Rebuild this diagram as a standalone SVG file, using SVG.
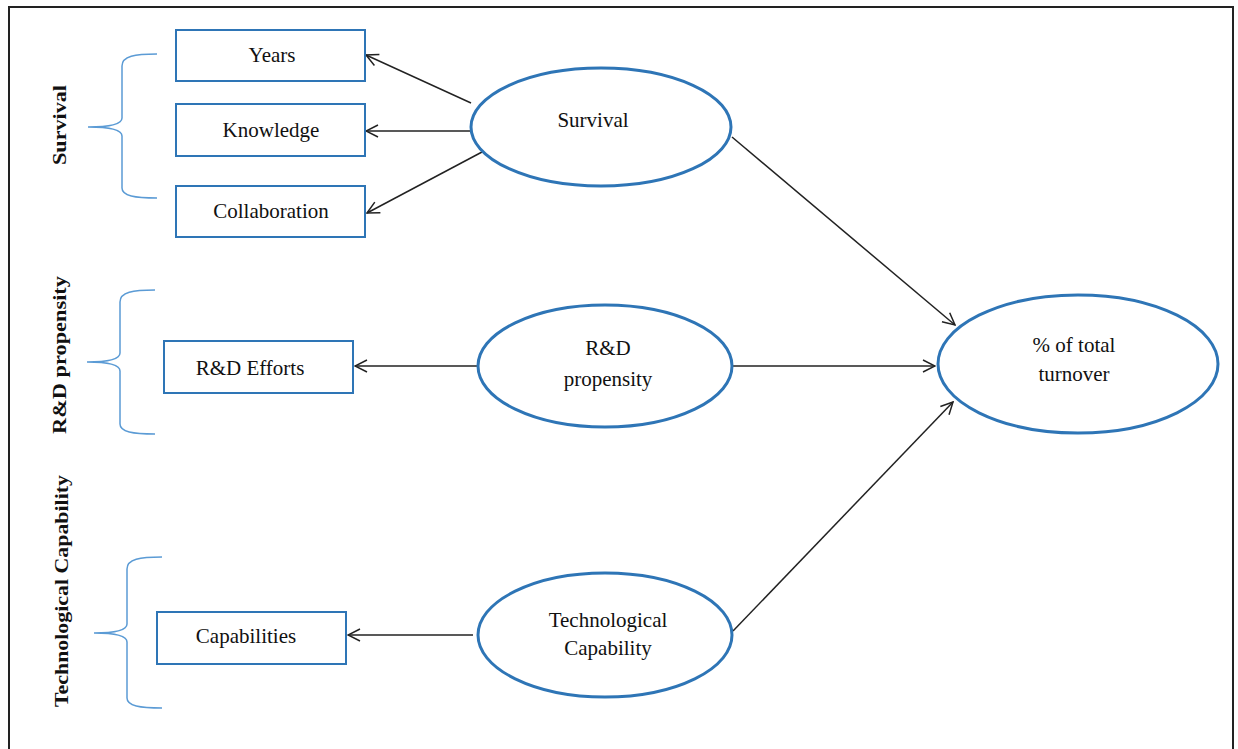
<svg xmlns="http://www.w3.org/2000/svg" width="1238" height="749" viewBox="0 0 1238 749">
<defs>
<style>
.frame{fill:none;stroke:#222;stroke-width:2}
.box{fill:#fff;stroke:#2e75b6;stroke-width:2}
.ell{fill:#fff;stroke:#2e75b6;stroke-width:3}
.brace{fill:none;stroke:#5b9bd5;stroke-width:1.5}
.conn{stroke:#222;stroke-width:1.5;fill:none;marker-end:url(#arr)}
.t{font-family:"Liberation Serif","Times New Roman",serif;font-size:21px;fill:#111;text-anchor:middle}
.v{font-family:"Liberation Serif","Times New Roman",serif;font-size:19px;font-weight:bold;fill:#111;text-anchor:middle}
</style>
<marker id="arr" viewBox="0 0 14 14" refX="13" refY="7" markerWidth="14" markerHeight="14" markerUnits="userSpaceOnUse" orient="auto">
<path d="M1,1 L13,7 L1,13" fill="none" stroke="#222" stroke-width="1.5"/>
</marker>
</defs>
<rect x="0" y="0" width="1238" height="749" fill="#fff"/>
<path class="frame" d="M9,760 L9,7 L1233,7 L1233,760"/>

<g id="connectors">
<line class="conn" x1="471" y1="103" x2="366" y2="55"/>
<line class="conn" x1="470" y1="131" x2="366" y2="131"/>
<line class="conn" x1="482" y1="152" x2="367" y2="213"/>
<line class="conn" x1="732" y1="137" x2="955" y2="325"/>
<line class="conn" x1="732" y1="366" x2="935" y2="366"/>
<line class="conn" x1="479" y1="366" x2="355" y2="366"/>
<line class="conn" x1="473" y1="635" x2="348" y2="635"/>
<line class="conn" x1="733" y1="631" x2="953" y2="402"/>
</g>

<g id="brace-survival">
<path class="brace" d="M157,54 C135,54 122,56 122,66 L122,118 C122,124 112,127 88,127 C112,127 122,130 122,136 L122,188 C122,196 135,198 157,198"/>
<text class="v" transform="translate(66,125) rotate(-90)" textLength="80" lengthAdjust="spacingAndGlyphs">Survival</text>
</g>
<g id="brace-rd">
<path class="brace" d="M155,290 C133,290 120,292 120,302 L120,353 C120,359 110,362 87,362 C110,362 120,365 120,371 L120,424 C120,432 133,434 155,434"/>
<text class="v" transform="translate(66,355) rotate(-90)" textLength="158" lengthAdjust="spacingAndGlyphs">R&amp;D propensity</text>
</g>
<g id="brace-tech">
<path class="brace" d="M162,557 C140,557 127,559 127,569 L127,624 C127,630 117,633 94,633 C117,633 127,636 127,642 L127,698 C127,706 140,708 162,708"/>
<text class="v" transform="translate(68,591) rotate(-90)" textLength="232" lengthAdjust="spacingAndGlyphs">Technological Capability</text>
</g>

<g id="years">
<rect class="box" x="176" y="30" width="189" height="51"/>
<text class="t" x="272" y="62">Years</text>
</g>
<g id="knowledge">
<rect class="box" x="176" y="104" width="189" height="52"/>
<text class="t" x="271" y="137">Knowledge</text>
</g>
<g id="collaboration">
<rect class="box" x="176" y="186" width="189" height="51"/>
<text class="t" x="271" y="218">Collaboration</text>
</g>
<g id="rd-efforts">
<rect class="box" x="164" y="341" width="189" height="52"/>
<text class="t" x="250" y="375">R&amp;D Efforts</text>
</g>
<g id="capabilities">
<rect class="box" x="157" y="612" width="189" height="52"/>
<text class="t" x="246" y="643">Capabilities</text>
</g>

<g id="survival">
<ellipse class="ell" cx="601" cy="127" rx="130" ry="59"/>
<text class="t" x="593" y="127">Survival</text>
</g>
<g id="rd-propensity">
<ellipse class="ell" cx="605" cy="366" rx="127" ry="61"/>
<text class="t" x="608" y="355">R&amp;D</text>
<text class="t" x="608" y="386">propensity</text>
</g>
<g id="tech-capability">
<ellipse class="ell" cx="605" cy="635" rx="127" ry="62"/>
<text class="t" x="608" y="627">Technological</text>
<text class="t" x="608" y="655">Capability</text>
</g>
<g id="turnover">
<ellipse class="ell" cx="1078" cy="364" rx="140" ry="69"/>
<text class="t" x="1074" y="352">% of total</text>
<text class="t" x="1074" y="381">turnover</text>
</g>
</svg>
